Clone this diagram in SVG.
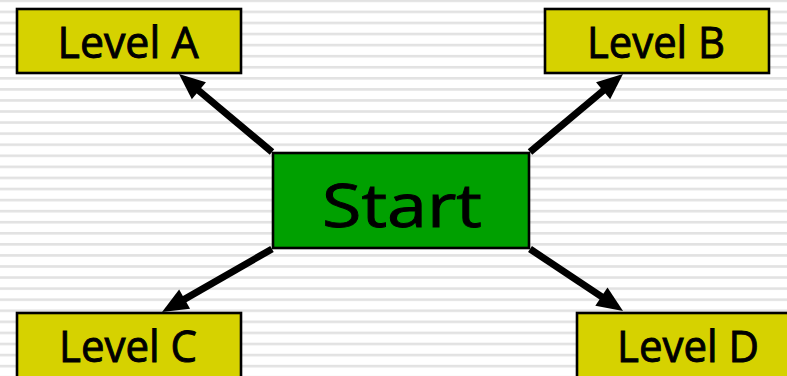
<svg xmlns="http://www.w3.org/2000/svg" width="787" height="376" viewBox="0 0 787 376">
  <defs>
    <pattern id="stripes" patternUnits="userSpaceOnUse" x="0" y="-0.5" width="787" height="11.07">
      <rect x="0" y="0" width="787" height="11.07" fill="#ffffff"/>
      <rect x="0" y="0" width="787" height="2.6" fill="#e2e2e2"/>
    </pattern>
    <marker id="head" markerUnits="userSpaceOnUse" markerWidth="28" markerHeight="24" refX="6" refY="11" orient="auto" overflow="visible">
      <path d="M0,0 L26,11 L0,22 z" fill="#000"/>
    </marker>
    <style>
      .level { fill: #d6d200; stroke: #000; stroke-width: 2.6; }
      .start { fill: #00a000; stroke: #000; stroke-width: 2.6; }
      .label { font-family: "Comic Sans MS", "Open Sans", "Noto Sans", sans-serif; fill: #000; stroke: #000; stroke-width: 0.9; text-anchor: middle; }
      .conn line { stroke: #000; stroke-width: 7; marker-end: url(#head); }
    </style>
  </defs>

  <rect width="787" height="376" fill="url(#stripes)"/>

  <g id="connectors" class="conn">
    <line x1="272" y1="152" x2="194.3" y2="86.9"/>
    <line x1="530" y1="152" x2="607.7" y2="86.9"/>
    <line x1="272" y1="249" x2="179.4" y2="302.1"/>
    <line x1="530" y1="249" x2="606.4" y2="299.9"/>
  </g>

  <g id="start">
    <rect class="start" x="273" y="153" width="256" height="95"/>
    <text class="label" x="402" y="227" font-size="60" textLength="160" lengthAdjust="spacingAndGlyphs">Start</text>
  </g>

  <g id="level-a">
    <rect class="level" x="17" y="9" width="224" height="64"/>
    <text class="label" x="128" y="57.5" font-size="43" textLength="141" lengthAdjust="spacingAndGlyphs">Level A</text>
  </g>

  <g id="level-b">
    <rect class="level" x="545" y="9" width="224" height="64"/>
    <text class="label" x="656" y="58" font-size="43" textLength="138" lengthAdjust="spacingAndGlyphs">Level B</text>
  </g>

  <g id="level-c">
    <rect class="level" x="17" y="313" width="224" height="70"/>
    <text class="label" x="128" y="361.5" font-size="43" textLength="138" lengthAdjust="spacingAndGlyphs">Level C</text>
  </g>

  <g id="level-d">
    <rect class="level" x="577" y="313" width="224" height="70"/>
    <text class="label" x="688" y="361.5" font-size="43" textLength="142" lengthAdjust="spacingAndGlyphs">Level D</text>
  </g>
</svg>
